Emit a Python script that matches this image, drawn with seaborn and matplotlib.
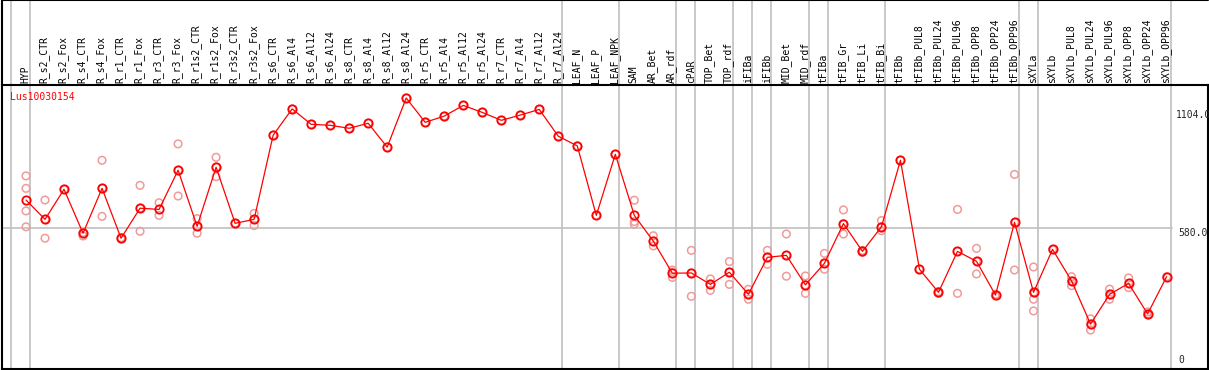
import numpy as np
import pandas as pd
import matplotlib
matplotlib.use("Agg")
import matplotlib.pyplot as plt
import matplotlib.transforms as mtransforms
import seaborn as sns

gene = "Lus10030154"

categories = [
    "HYP", "R_s2_CTR", "R_s2_Fox", "R_s4_CTR", "R_s4_Fox", "R_r1_CTR", "R_r1_Fox",
    "R_r3_CTR", "R_r3_Fox", "R_r1s2_CTR", "R_r1s2_Fox", "R_r3s2_CTR", "R_r3s2_Fox",
    "R_s6_CTR", "R_s6_Al4", "R_s6_Al12", "R_s6_Al24", "R_s8_CTR", "R_s8_Al4",
    "R_s8_Al12", "R_s8_Al24", "R_r5_CTR", "R_r5_Al4", "R_r5_Al12", "R_r5_Al24",
    "R_r7_CTR", "R_r7_Al4", "R_r7_Al12", "R_r7_Al24", "LEAF_N", "LEAF_P", "LEAF_NPK",
    "SAM", "AR_Bet", "AR_rdf", "cPAR", "TOP_Bet", "TOP_rdf", "iFIBa", "iFIBb",
    "MID_Bet", "MID_rdf", "tFIBa", "tFIB_Gr", "tFIB_Li", "tFIB_Bi", "tFIBb",
    "tFIBb_PUL8", "tFIBb_PUL24", "tFIBb_PUL96", "tFIBb_OPP8", "tFIBb_OPP24",
    "tFIBb_OPP96", "sXYLa", "sXYLb", "sXYLb_PUL8", "sXYLb_PUL24", "sXYLb_PUL96",
    "sXYLb_OPP8", "sXYLb_OPP24", "sXYLb_OPP96",
]

means = [
    693, 615, 736, 559, 740, 539, 660, 655, 813, 587, 825, 599, 615,
    954, 1060, 998, 994, 982, 1002, 906, 1104, 1006, 1031, 1074, 1046,
    1014, 1035, 1058, 950, 911, 631, 877,
    631, 527, 398, 399, 353, 402, 313, 462, 470, 351,
    438, 598, 486, 585, 853, 414, 321, 486, 446, 310, 603,
    321, 494, 367, 193, 313, 357, 234, 384,
]

replicates = [
    [790, 740, 649, 585], [693, 539, 615], [736], [548, 562], [853, 627, 740],
    [537, 541], [752, 567, 660], [682, 631], [919, 709, 813], [618, 559, 587],
    [865, 787, 825], [599], [639, 590, 615],
    [954], [1060], [998], [994], [982], [1002], [906], [1104], [1006], [1031],
    [1074], [1046], [1014], [1035], [1058], [950], [911], [631], [877],
    [692, 606, 596], [549, 508, 527], [411, 381, 402], [490, 305, 399],
    [375, 329, 353], [445, 353, 402], [333, 293, 313], [490, 434, 462],
    [556, 386, 470], [387, 317, 351],
    [478, 414, 438], [653, 556, 598], [490, 482, 486], [610, 569, 585], [853],
    [414], [324, 317, 321], [655, 317, 486], [498, 395, 446], [313, 307, 310],
    [796, 411, 603],
    [423, 293, 246, 321], [494], [384, 348, 367], [214, 169, 193],
    [334, 293, 313], [379, 340, 357], [242, 230, 234], [384],
]

group_starts = [0, 1, 29, 32, 35, 36, 38, 39, 40, 42, 43, 46, 53, 54, 61]
tick_values = [1104, 580, 0]
tick_labels = ["1104.0", "580.0", "0"]

# ---------------------------------------------------------------------------
idx = np.arange(len(categories))
df_mean = pd.DataFrame({"pos": idx, "value": means, "cond": categories})
rep_rows = [(i, v) for i, reps in enumerate(replicates) for v in reps]
df_rep = pd.DataFrame(rep_rows, columns=["pos", "value"])

sns.set_style("white")
plt.rcParams["font.family"] = ["DejaVu Sans Mono", "DejaVu Sans"]

W, H = 1209, 370
fig = plt.figure(figsize=(W / 100, H / 100), dpi=100)
ax_left, ax_right, ax_top, ax_bot = 1.7, 1207.7, 85, 369
ax = fig.add_axes([ax_left / W, 1 - ax_bot / H, (ax_right - ax_left) / W,
                   (ax_bot - ax_top) / H])

x0, dx = 26.0, 19.01
ax.set_xlim((ax_left - x0) / dx, (ax_right - x0) / dx)
yzero, yscale = 372.0, 0.2482
ax.set_ylim((yzero - ax_bot) / yscale, (yzero - ax_top) / yscale)

red = "#ff0000"
light = "#f09a9a"

header_frac = 1 + ax_top / (ax_bot - ax_top)

# separators
for g in group_starts:
    ax.axvline(g - 15 / dx, ymin=0, ymax=header_frac, color="#c0c0c0",
               lw=1.2, clip_on=False, zorder=0)
# horizontal gridline at mid tick
ax.axhline(tick_values[1], xmin=0, xmax=(1172 - ax_left) / (ax_right - ax_left),
           color="#c0c0c0", lw=1.2, zorder=0)

sns.scatterplot(data=df_rep, x="pos", y="value", ax=ax, marker="o", s=30,
                facecolors="none", edgecolor=light, linewidth=1.1, zorder=2,
                legend=False)
sns.lineplot(data=df_mean, x="pos", y="value", ax=ax, color=red, lw=0.9,
             marker="o", markersize=6, markerfacecolor="none",
             markeredgecolor=red, markeredgewidth=1.3, zorder=3, legend=False)

# spines
for side in ["left", "bottom", "top", "right"]:
    ax.spines[side].set_visible(True)
    ax.spines[side].set_color("black")
    ax.spines[side].set_linewidth(1.5)
ax.plot([0, 1], [header_frac, header_frac], transform=ax.transAxes,
        color="black", lw=1.5, clip_on=False)
ax.plot([0, 0], [1, header_frac], transform=ax.transAxes,
        color="black", lw=1.5, clip_on=False)

ax.set_xticks([])
ax.set_yticks([])
ax.set_xlabel("")
ax.set_ylabel("")

# column labels in header
blend = mtransforms.blended_transform_factory(ax.transData, ax.transAxes)
for i, c in enumerate(categories):
    ax.annotate(c, xy=(i, 1.0), xycoords=blend, xytext=(-0.5, 1.5),
                textcoords="offset points", rotation=90, ha="center",
                va="bottom", fontsize=7, color="black")

# value labels on right
xlab = (1176 - x0) / dx
for v, lab in zip(tick_values, tick_labels):
    if v == 0:
        t = ax.annotate(lab, xy=(xlab, 0.0), xycoords=blend, xytext=(2, 3),
                        textcoords="offset points", ha="left", va="bottom",
                        fontsize=7, annotation_clip=False)
    elif v == tick_values[0]:
        t = ax.annotate(lab, xy=(xlab, v), xycoords="data", xytext=(0, -9),
                        textcoords="offset points", ha="left", va="top",
                        fontsize=7, annotation_clip=False)
    else:
        t = ax.annotate(lab, xy=(xlab, v), xycoords="data", xytext=(2, 0),
                        textcoords="offset points", ha="left", va="top",
                        fontsize=7, annotation_clip=False)
    t.set_clip_on(True)

ax.text((10 - ax_left) / (ax_right - ax_left), 1 - (97 - ax_top) / (ax_bot - ax_top),
        gene, transform=ax.transAxes, color=red, fontsize=7, ha="left",
        va="center")

fig.savefig("out.png", dpi=100)
